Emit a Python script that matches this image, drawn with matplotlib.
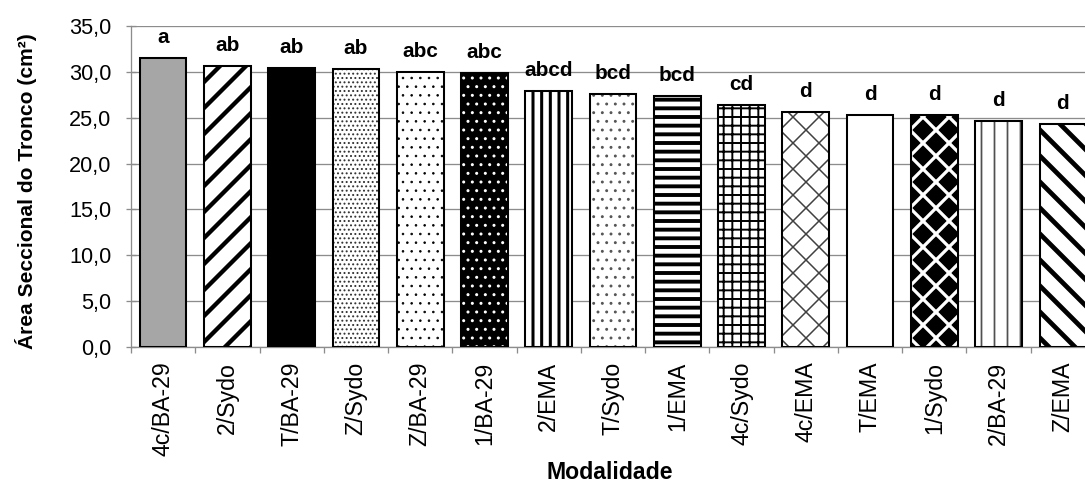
import numpy as np
import matplotlib
matplotlib.use("Agg")
import matplotlib.pyplot as plt
from matplotlib.ticker import FuncFormatter, FixedLocator

plt.rcParams['font.family'] = ['Liberation Sans', 'DejaVu Sans']

# trunk cross-section area per treatment, sorted, with Tukey letters
modalidades = ['4c/BA-29', '2/Sydo', 'T/BA-29', 'Z/Sydo', 'Z/BA-29', '1/BA-29', '2/EMA',
               'T/Sydo', '1/EMA', '4c/Sydo', '4c/EMA', 'T/EMA', '1/Sydo', '2/BA-29', 'Z/EMA']
area = [31.5, 30.6, 30.4, 30.3, 30.0, 29.9, 27.9, 27.6, 27.4, 26.4, 25.6, 25.3, 25.3, 24.6, 24.3]
letras = ['a', 'ab', 'ab', 'ab', 'abc', 'abc', 'abcd', 'bcd', 'bcd', 'cd', 'd', 'd', 'd', 'd', 'd']

# fill / hatch / hatch colour / hatch linewidth for every bar
estilos = [
    ('#a6a6a6', None, 'black', 1.0),
    ('white', '//', 'black', 2.0),
    ('black', None, 'black', 1.0),
    ('white', '......', '#333333', 0.55),
    ('white', '...', 'black', 0.35),
    ('black', '...', 'white', 0.6),
    ('white', '|||', 'black', 1.4),
    ('white', '...', '#555555', 0.55),
    ('white', '---', 'black', 1.8),
    ('white', '+++', 'black', 0.9),
    ('white', 'xx', '#404040', 0.7),
    ('white', None, 'black', 1.0),
    ('black', 'xx', 'white', 1.5),
    ('white', '||', '#505050', 0.8),
    ('white', '\\\\', 'black', 2.2),
]

DPI = 156
fig = plt.figure(figsize=(1085 / DPI, 485 / DPI), dpi=DPI)
ax = fig.add_axes([131 / 1085, 138 / 485, 964 / 1085, 321 / 485])

x = np.arange(len(modalidades))
largura = 0.727
cinza = '#8c8c8c'

for i in range(len(x)):
    face, hatch, hc, hlw = estilos[i]
    b = ax.bar(x[i], area[i], largura, color=face, edgecolor=hc, linewidth=0,
               hatch=hatch, zorder=2)
    if hatch is not None:
        for p in b:
            if hasattr(p, 'set_hatch_linewidth'):
                p.set_hatch_linewidth(hlw)

# black outlines on top of the patterns
ax.bar(x, area, largura, fill=False, edgecolor='black', linewidth=0.95, zorder=3)

for i in range(len(x)):
    ax.annotate(letras[i], (x[i], area[i]), xytext=(0, 6.9), textcoords='offset points',
                ha='center', va='baseline', fontsize=9.6, fontweight='bold')

ax.set_xlim(-0.5, len(x) - 0.5)
ax.set_ylim(0, 35)
ax.set_yticks(np.arange(0, 36, 5))
ax.yaxis.set_major_formatter(FuncFormatter(lambda v, pos: ('%.1f' % v).replace('.', ',')))
ax.set_xticks(x)
ax.set_xticklabels(modalidades, rotation=90, fontsize=10.7)
ax.xaxis.set_minor_locator(FixedLocator(np.arange(-0.5, len(x), 1.0)))

ax.tick_params(axis='x', which='major', length=0, pad=6.8)
ax.tick_params(axis='x', which='minor', length=2.9, width=0.6, color=cinza, direction='out')
ax.tick_params(axis='y', length=4.2, width=0.6, color=cinza, direction='inout',
               labelsize=10.0, pad=7.0)

ax.grid(axis='y', color=cinza, linewidth=0.6)
ax.set_axisbelow(True)
for s in ['top', 'right']:
    ax.spines[s].set_visible(False)
for s in ['left', 'bottom']:
    ax.spines[s].set_color(cinza)
    ax.spines[s].set_linewidth(0.6)

fig.text(33 / 1085, 1 - 191 / 485, 'Área Seccional do Tronco (cm²)', rotation=90,
         rotation_mode='anchor', ha='center', va='baseline', fontsize=9.7, fontweight='bold')
fig.text(610 / 1085, 6 / 485, 'Modalidade', ha='center', va='baseline',
         fontsize=10.6, fontweight='bold')

fig.savefig('out.png', dpi=DPI)
